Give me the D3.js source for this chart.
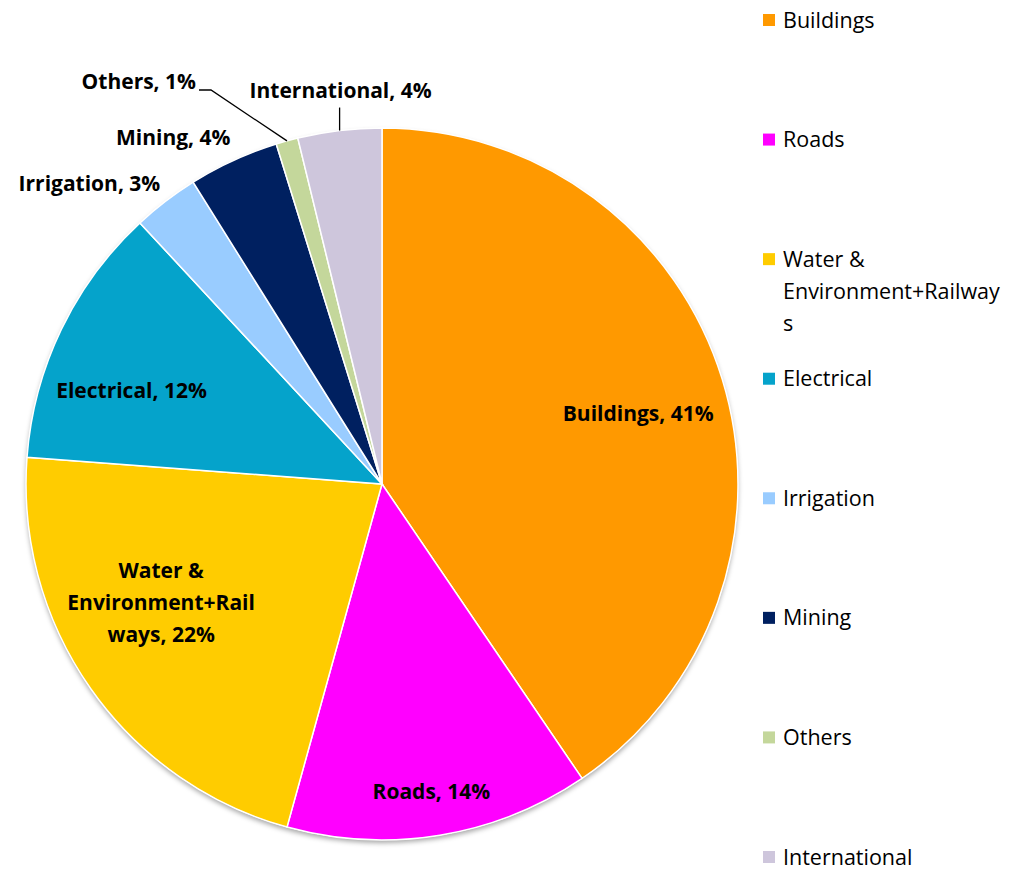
<!DOCTYPE html>
<html><head><meta charset="utf-8">
<script src="https://cdn.jsdelivr.net/npm/d3@7"></script>
<style>html,body{margin:0;padding:0;background:#fff;}</style>
</head><body>
<svg id="chart" width="1012" height="879"></svg>
<script>
const categories = ["Buildings","Roads","Water & Environment+Railways","Electrical","Irrigation","Mining","Others","International"];
const values = [40.5, 13.8, 21.9, 11.9, 3.0, 4.1, 1.0, 3.8];
const colors = ["#FF9900","#FF00FF","#FFCC00","#05A3CB","#99CCFF","#002060","#C4D79B","#CEC6DC"];
const labelLines = [["Buildings, 41%"],["Roads, 14%"],["Water &","Environment+Rail","ways, 22%"],["Electrical, 12%"],["Irrigation, 3%"],["Mining, 4%"],["Others, 1%"],["International, 4%"]];
const legendLines = [["Buildings"],["Roads"],["Water &","Environment+Railway","s"],["Electrical"],["Irrigation"],["Mining"],["Others"],["International"]];

const svg = d3.select("#chart");
const cx = 382, cy = 484, R = 356;
const FONT = "'Open Sans', Lato, sans-serif";

const defs = svg.append("defs");
const f = defs.append("filter").attr("id","sh").attr("x","-10%").attr("y","-10%").attr("width","120%").attr("height","120%");
f.append("feDropShadow").attr("dx",0).attr("dy",3).attr("stdDeviation",2.5).attr("flood-color","#000").attr("flood-opacity",0.35);

const data = categories.map((c,i)=>({cat:c, value:values[i], i}));
const pie = d3.pie().value(d=>d.value).sort(null);
const arcs = pie(data);
const arc = d3.arc().innerRadius(0).outerRadius(R);

const g = svg.append("g").attr("transform",`translate(${cx},${cy})`);
g.append("circle").attr("r",R).attr("fill","#fff").attr("filter","url(#sh)");
g.selectAll("path.slice").data(arcs).join("path").attr("class","slice")
  .attr("d",arc).attr("fill",d=>colors[d.data.i]).attr("stroke","#fff").attr("stroke-width",1.5);

const mid = d => (d.startAngle+d.endAngle)/2;
const pt = (a,r) => [r*Math.sin(a), -r*Math.cos(a)];
// inside labels: radius factor and pixel nudge
const inside = {0:[0.75,1,8], 1:[0.87,-1,2], 2:[0.70,-17,-25], 3:[0.75,-10,23]};
const lh = 32;
arcs.forEach(d=>{
  const i = d.data.i, a = mid(d), lines = labelLines[i];
  let x, y, anchor = "middle";
  if (inside[i] !== undefined) {
    [x,y] = pt(a, R*inside[i][0]); x += inside[i][1]; y += inside[i][2];
  } else if (i === 4) {
    [x,y] = pt(a, R+12); x += 2; y -= 8; anchor = "end";
  } else if (i === 5) {
    [x,y] = pt(a, R+12); x += 2; y -= 12; anchor = "end";
  } else if (i === 6) {
    const p0 = pt(a, R);
    const p1 = [p0[0]-76, -394];
    const p2 = [p1[0]-12, p1[1]];
    g.append("polyline").attr("points",[p0,p1,p2].map(p=>p.join(",")).join(" "))
      .attr("fill","none").attr("stroke","#000").attr("stroke-width",1.3);
    x = p2[0]-3; y = p1[1]-8; anchor = "end";
  } else if (i === 7) {
    const p0 = pt(a, R);
    g.append("line").attr("x1",p0[0]).attr("y1",p0[1]).attr("x2",p0[0]).attr("y2",p0[1]-23)
      .attr("stroke","#000").attr("stroke-width",1.3);
    x = p0[0]+1; y = p0[1]-40;
  }
  const t = g.append("text").attr("text-anchor",anchor).attr("font-family",FONT)
    .attr("font-weight","bold").attr("font-size",21).attr("fill","#000");
  lines.forEach((ln,k)=>{
    t.append("tspan").attr("x",x).attr("y", y + (k-(lines.length-1)/2)*lh).attr("dy","0.35em").text(ln);
  });
});

const ly = d3.scalePoint().domain(categories).range([20, 857]);
const lg = svg.append("g");
categories.forEach((c,i)=>{
  const y = ly(c);
  lg.append("rect").attr("x",763).attr("y",y-6).attr("width",12).attr("height",12).attr("fill",colors[i]);
  const t = lg.append("text").attr("font-family",FONT).attr("font-size",21.5).attr("fill","#000");
  legendLines[i].forEach((ln,k)=>{
    t.append("tspan").attr("x",783).attr("y",y+k*32).attr("dy","0.35em").text(ln);
  });
});
</script>
</body></html>
